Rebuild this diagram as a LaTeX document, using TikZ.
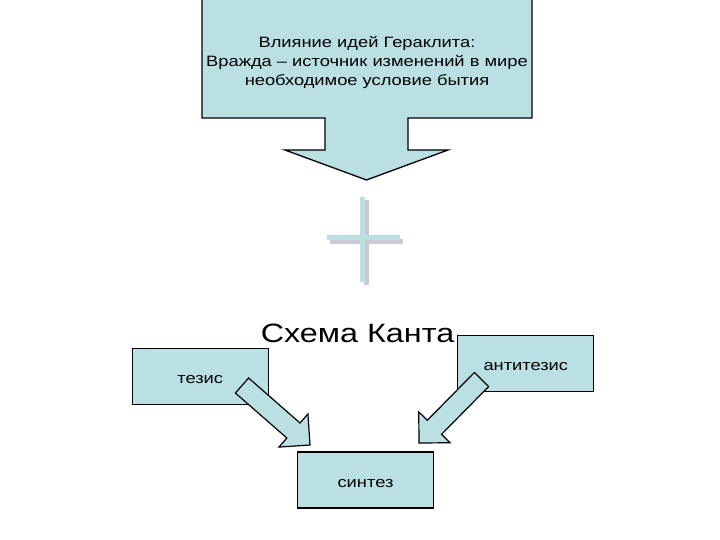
\documentclass[tikz,border=0pt]{standalone}
\usepackage{fontspec}
\setmainfont{Liberation Sans}[FakeStretch=1.22]
\usepackage{tikz}
\usetikzlibrary{positioning,calc}
\definecolor{paleblue}{HTML}{BBE0E3}
\definecolor{shadowgrey}{HTML}{CACAD6}

\newcommand{\blockarrow}[2]{%
  \coordinate (ba-base) at ($(#2)!22pt!(#1)$);
  \filldraw[blockfill] ($(#1)!10pt!90:(#2)$) -- ($(ba-base)!10pt!-90:(#1)$)
    -- ($(ba-base)!22pt!-90:(#1)$) -- (#2) -- ($(ba-base)!22pt!90:(#1)$)
    -- ($(ba-base)!10pt!90:(#1)$) -- ($(#1)!10pt!-90:(#2)$) -- cycle;}

\begin{document}
\begin{tikzpicture}[
  x=1pt, y=-1pt,
  box/.style={draw, fill=paleblue, line width=1.3pt, minimum width=136pt, minimum height=56pt,
    text height=14pt, text depth=0pt, inner sep=0pt, font=\fontsize{15}{19}\selectfont},
  callout/.style={draw, fill=paleblue, line width=1.3pt, line join=miter},
  blockfill/.style={draw, fill=paleblue, line width=1.2pt, line join=miter},
  crossbar/.style={fill=paleblue},
  crossshadow/.style={fill=shadowgrey},
]
\useasboundingbox (0,0) rectangle (720,540);

\filldraw[callout] (202,-2) -- (532,-2) -- (532,118) -- (408,118) -- (408,150) -- (448,150)
  -- (366.5,180) -- (285,150) -- (325,150) -- (325,118) -- (202,118) -- cycle;
\node[align=center, inner sep=0pt, font=\fontsize{15}{19}\selectfont] (heraclitus) at (367,62)
  {Влияние идей Гераклита:\\Вражда – источник изменений в мире\\необходимое условие бытия};

\fill[crossshadow] (364,200) rectangle (369,285);
\fill[crossshadow] (330,239) rectangle (403,244);
\fill[crossbar] (360,197) rectangle (365,282);
\fill[crossbar] (327,235) rectangle (400,240);

\node[font=\fontsize{26.5}{32}\selectfont, anchor=base, inner sep=0pt] (kant) at (357.5,342) {Схема Канта};

\node[box] (synth) at (365.5,480) {синтез};
\node[box, above left=46pt and 28pt of synth] (thesis) {тезис};
\node[box, above right=59pt and 23pt of synth] (anti) {антитезис};

\coordinate (thesis-tail) at (242,385.5);
\coordinate (thesis-tip) at (310,445);
\coordinate (anti-tail) at (481.5,379.5);
\coordinate (anti-tip) at (419,443);
\blockarrow{thesis-tail}{thesis-tip}
\blockarrow{anti-tail}{anti-tip}
\end{tikzpicture}
\end{document}
